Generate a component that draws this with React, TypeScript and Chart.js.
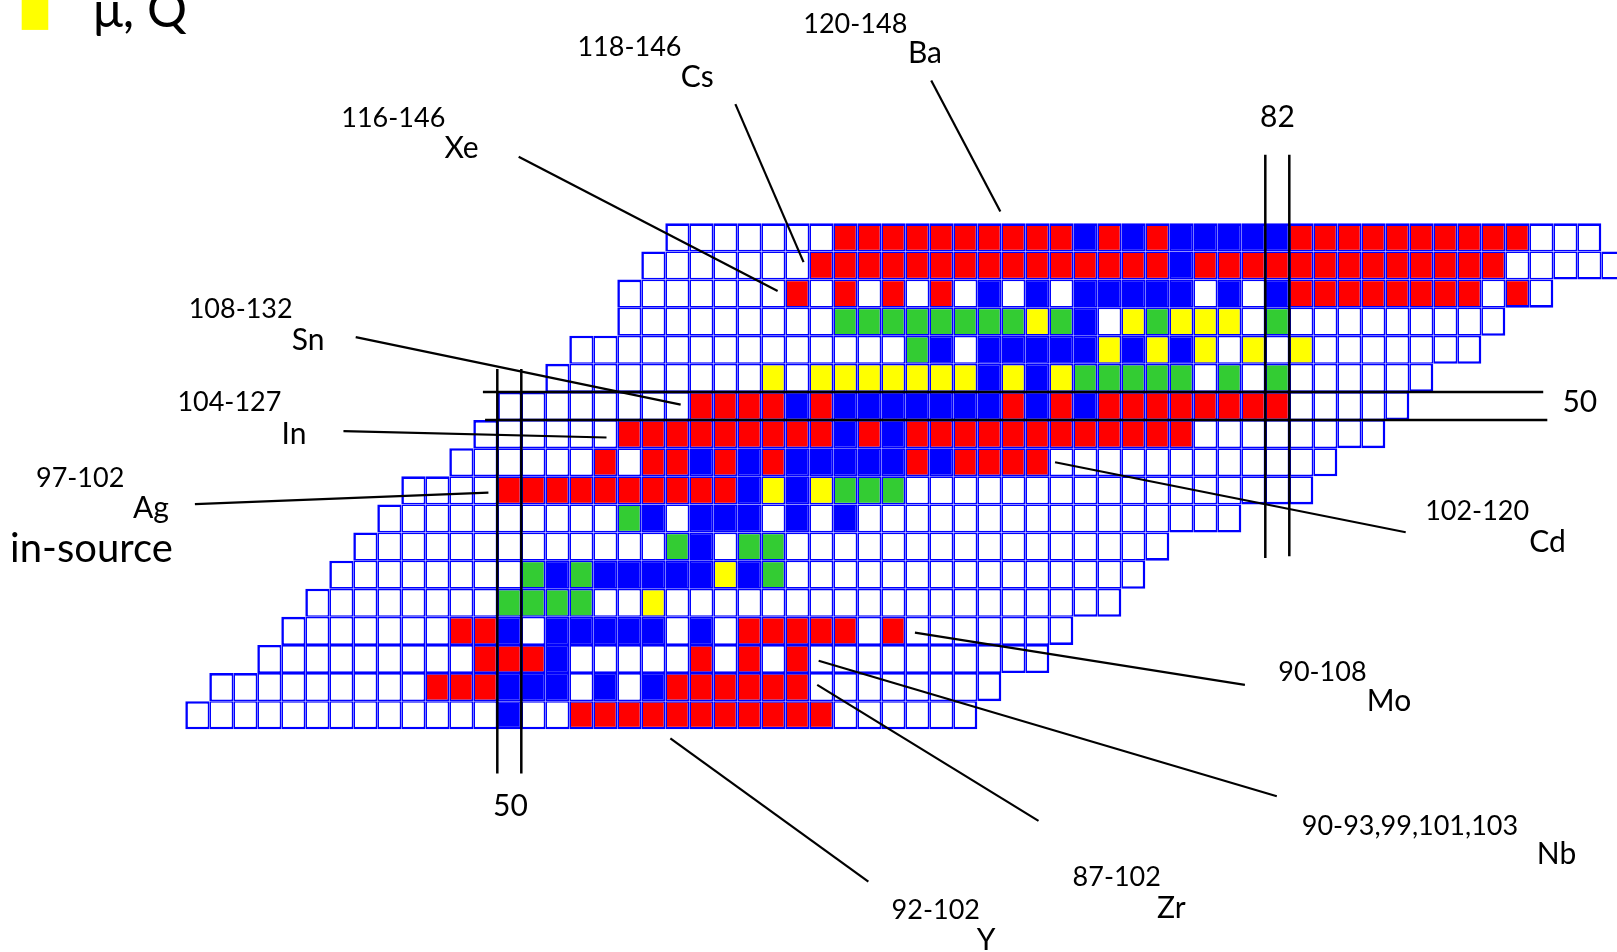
import React, { useEffect, useRef } from "react";
import { Chart, registerables } from "chart.js";

Chart.register(...registerables);

// ---- Grid of nuclides: one row per proton number Z (top to bottom) ----
const rowZ = [56, 55, 54, 53, 52, 51, 50, 49, 48, 47, 46, 45, 44, 43, 42, 41, 40, 39];
// first neutron number N of every row
const rowStartN = [57, 56, 55, 55, 53, 52, 50, 49, 48, 46, 45, 44, 43, 42, 41, 40, 38, 37];
// cell colour codes along N (spaces only for readability)
// W white, R red, B blue, G green, Y yellow
const rowCells = [
  "WWWWWWW RRRRRRRRRR BRBR BBBBB RRRRRRRRRR WWW",
  "WWWWWWW RRRRRRRRRRRRRRR B RRRRRRRRRRRRR WWWWW",
  "WWWWWWW RWRWRWRW BWBW BBBBB WBWB RRRRRRRR WRW",
  "WWWWWWWWW GGGGGGGG YGBWYGYYYWG WWWWWWWWW",
  "WWWWWWWWWWWWWW GBW BBBBB YBYBYWYWY WWWWWWW",
  "WWWWWWWWW YW YYYYYYY BYBY GGGGG WGWG WWWWWW",
  "WWWWWWWW RRRR BR BBBBBBB RBRB RRRRRRRR WWWWW",
  "WWWWWW RRRRRRRRR BRB RRRRRRRRRRRR WWWWWWWW",
  "WWWWWW RWRRBRBR BBBBB RB RRRR WWWWWWWWWWWW",
  "WWWW RRRRRRRRRR BYBY GGG WWWWWWWWWWWWWWWWW",
  "WWWWWWWWWW GBWBBBWBWB WWWWWWWWWWWWWWWW",
  "WWWWWWWWWWWWW GBWGG WWWWWWWWWWWWWWWW",
  "WWWWWWWW GBG BBBBB YBG WWWWWWWWWWWWWWW",
  "WWWWWWWW GGGG WWY WWWWWWWWWWWWWWWWWWW",
  "WWWWWWW RRBW BBBBB WBW RRRRR WR WWWWWWW",
  "WWWWWWWWW RRRB WWWWW RWRWR WWWWWWWWWW",
  "WWWWWWWWW RRR BBB WBWB RRRRRR WWWWWWWW",
  "WWWWWWWWWWWWW BWW RRRRRRRRRRR WWWWWW",
];

const cellColors: Record<string, string> = {
  W: "#FFFFFF",
  R: "#FF0000",
  B: "#0000FF",
  G: "#33CC33",
  Y: "#FFFF00",
};
const GRID_BLUE = "#0000FF";

// ---- Visible window of the chart in (N, Z) units ----
const X_MIN = 28.779;
const X_MAX = 96.154;
const Y_MIN = 30.577;
const Y_MAX = 64.444;

// ---- Leader lines from labels to rows: [N1, Z1, N2, Z2] ----
const leaderLines = [
  [67.58, 61.58, 70.46, 56.92], // Ba
  [59.42, 60.74, 62.26, 55.12], // Cs
  [50.39, 58.87, 61.18, 54.09], // Xe
  [43.6, 52.45, 57.14, 50.05], // Sn
  [43.09, 49.11, 54.05, 48.88], // In
  [36.9, 46.51, 49.13, 46.92], // Ag
  [72.74, 48.0, 87.35, 45.51], // Cd
  [66.9, 41.94, 80.65, 40.08], // Mo
  [62.89, 40.94, 81.98, 36.12], // Nb
  [62.83, 40.08, 72.05, 35.24], // Zr
  [56.71, 38.18, 64.96, 33.08], // Y
];

// ---- Magic-number guide lines (N=50, N=82, Z=50) ----
const magicLines = [
  [49.5, 51.32, 49.5, 36.93],
  [50.5, 51.32, 50.5, 36.93],
  [81.5, 58.94, 81.5, 44.59],
  [82.5, 58.94, 82.5, 44.66],
  [48.9, 50.5, 93.08, 50.5],
  [48.99, 49.5, 93.25, 49.5],
];

// ---- Text labels (left edge N, baseline Z, font size) ----
const labelText = [
  "120-148", "Ba", "118-146", "Cs", "116-146", "Xe", "108-132", "Sn",
  "104-127", "In", "97-102", "Ag", "in-source", "82", "50", "50",
  "102-120", "Cd", "90-108", "Mo", "90-93,99,101,103", "Nb",
  "87-102", "Zr", "92-102", "Y", "μ, Q",
];
const labelN = [
  62.25, 66.61, 52.84, 57.14, 43.0, 47.3, 36.64, 40.94,
  36.17, 40.51, 30.28, 34.32, 29.2, 81.28, 93.88, 49.32,
  88.16, 92.5, 82.04, 85.73, 83.02, 92.81,
  73.47, 76.99, 65.93, 69.48, 32.65,
];
const labelZ = [
  63.28, 62.19, 62.44, 61.35, 59.94, 58.82, 53.12, 51.99,
  49.82, 48.65, 47.13, 46.01, 44.46, 59.94, 49.77, 35.43,
  45.93, 44.8, 40.22, 39.15, 34.74, 33.7,
  32.94, 31.78, 31.74, 30.65, 63.49,
];
const labelSize = [
  27, 30, 27, 30, 27, 30, 27, 30,
  27, 30, 27, 30, 40, 30, 30, 30,
  27, 30, 27, 30, 27, 30,
  27, 30, 27, 30, 50,
];

// legend swatch (yellow) corners in (N, Z)
const legendSwatchN = [29.683, 30.79];
const legendSwatchZ = [64.62, 63.38];

const FONT = 'Lato, "Open Sans", "DejaVu Sans", sans-serif';

type Cell = { n: number; z: number; code: string };

function buildCells(): Cell[] {
  const cells: Cell[] = [];
  rowCells.forEach((row, i) => {
    const codes = row.replace(/\s+/g, "");
    for (let j = 0; j < codes.length; j++) {
      cells.push({ n: rowStartN[i] + j, z: rowZ[i], code: codes[j] });
    }
  });
  return cells;
}

const labelPlugin = {
  id: "nuclideLabels",
  afterDatasetsDraw(chart: any) {
    const { ctx } = chart;
    const xs = chart.scales.x;
    const ys = chart.scales.y;
    ctx.save();
    // legend swatch
    const sx0 = xs.getPixelForValue(legendSwatchN[0]);
    const sx1 = xs.getPixelForValue(legendSwatchN[1]);
    const sy0 = ys.getPixelForValue(legendSwatchZ[0]);
    const sy1 = ys.getPixelForValue(legendSwatchZ[1]);
    ctx.fillStyle = "#FFFF00";
    ctx.fillRect(sx0, sy0, sx1 - sx0, sy1 - sy0);
    // texts
    ctx.fillStyle = "#000000";
    ctx.textAlign = "left";
    ctx.textBaseline = "alphabetic";
    labelText.forEach((t, i) => {
      ctx.font = `${labelSize[i]}px ${FONT}`;
      ctx.fillText(t, xs.getPixelForValue(labelN[i]), ys.getPixelForValue(labelZ[i]));
    });
    ctx.restore();
  },
};

export default function App() {
  const ref = useRef<HTMLCanvasElement>(null);

  useEffect(() => {
    const canvas = ref.current;
    if (!canvas) return;
    const cells = buildCells();
    const occupied = new Set(cells.map((c) => `${c.n}:${c.z}`));
    const INNER = 1.7;
    const OUTER = 2.6;
    const side = (n: number, z: number) => (occupied.has(`${n}:${z}`) ? INNER : OUTER);

    const datasets: any[] = [
      {
        type: "bar",
        label: "cells",
        data: cells.map((c) => ({ x: c.n, y: [c.z - 0.5, c.z + 0.5] })),
        backgroundColor: cells.map((c) => cellColors[c.code]),
        borderColor: GRID_BLUE,
        borderWidth: (ctx: any) => {
          const c = cells[ctx.dataIndex];
          if (!c) return INNER;
          return {
            left: side(c.n - 1, c.z),
            right: side(c.n + 1, c.z),
            top: side(c.n, c.z + 1),
            bottom: side(c.n, c.z - 1),
          };
        },
        borderSkipped: false,
        inflateAmount: 0,
        barPercentage: 1,
        categoryPercentage: 1,
        grouped: false,
        order: 3,
      },
    ];

    magicLines.forEach((l) => {
      datasets.push({
        type: "line",
        data: [
          { x: l[0], y: l[1] },
          { x: l[2], y: l[3] },
        ],
        borderColor: "#000000",
        borderWidth: 2.5,
        pointRadius: 0,
        fill: false,
        tension: 0,
        order: 1,
      });
    });
    leaderLines.forEach((l) => {
      datasets.push({
        type: "line",
        data: [
          { x: l[0], y: l[1] },
          { x: l[2], y: l[3] },
        ],
        borderColor: "#000000",
        borderWidth: 2.2,
        pointRadius: 0,
        fill: false,
        tension: 0,
        order: 1,
      });
    });

    const chart = new Chart(canvas, {
      type: "bar",
      data: { datasets },
      options: {
        responsive: false,
        animation: false,
        events: [],
        layout: { padding: 0 },
        plugins: {
          legend: { display: false },
          tooltip: { enabled: false },
          title: { display: false },
        },
        scales: {
          x: {
            type: "linear",
            min: X_MIN,
            max: X_MAX,
            display: false,
            offset: false,
            grid: { offset: false },
          },
          y: {
            type: "linear",
            min: Y_MIN,
            max: Y_MAX,
            display: false,
          },
        },
      } as any,
      plugins: [labelPlugin],
    });

    return () => chart.destroy();
  }, []);

  return (
    <div
      style={{
        position: "absolute",
        left: 0,
        top: 0,
        width: 1617,
        height: 952,
        background: "#ffffff",
        overflow: "hidden",
      }}
    >
      <canvas ref={ref} width={1617} height={952} style={{ display: "block" }} />
    </div>
  );
}
